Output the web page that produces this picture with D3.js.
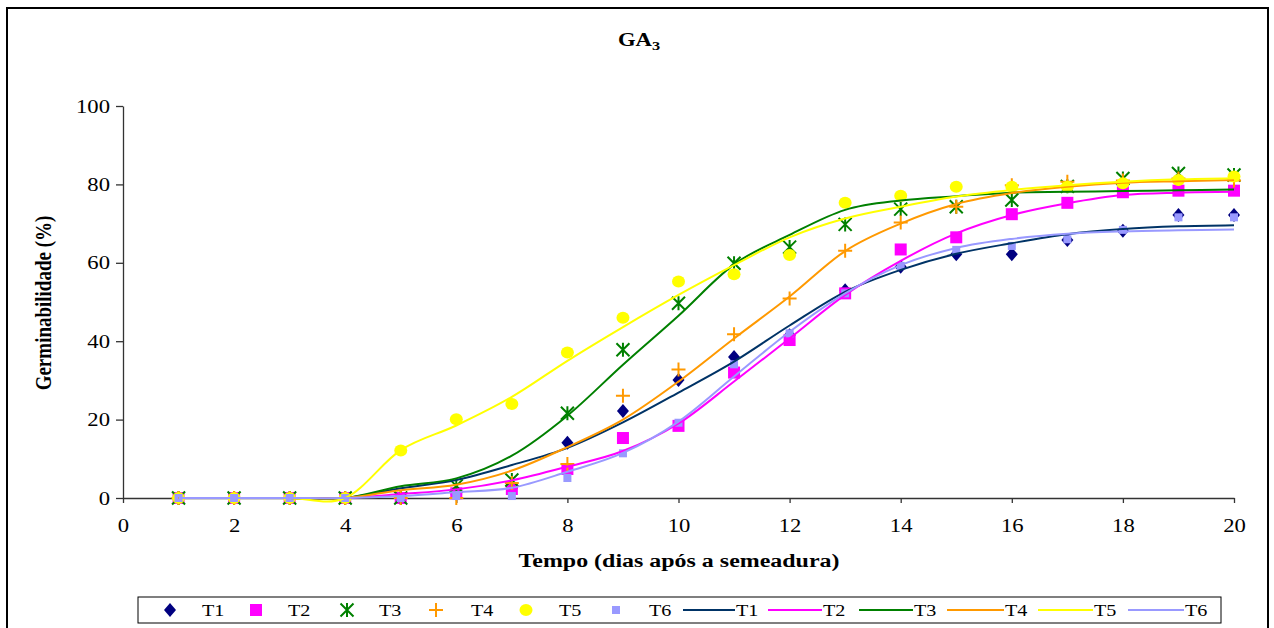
<!DOCTYPE html>
<html>
<head>
<meta charset="utf-8">
<script src="https://cdn.jsdelivr.net/npm/d3@7"></script>
<style>
  html, body { margin: 0; padding: 0; background: #fff; }
  svg { display: block; }
  text { font-family: "Liberation Serif", "Times New Roman", serif; fill: #000; }
</style>
</head>
<body>
<svg id="chart" width="1274" height="628"></svg>
<script>
// ---- Data: germinability (%) per day after sowing, GA3 treatments ----
const days = [1, 2, 3, 4, 5, 6, 7, 8, 9, 10, 11, 12, 13, 14, 15, 16, 17, 18, 19, 20];
const seriesNames = ["T1", "T2", "T3", "T4", "T5", "T6"];

// observed values
const observedT1 = [0, 0, 0, 0, 0, 1, 2.5, 14.1, 22.2, 30.1, 36, 41.5, 53, 59, 62.2, 62.2, 65.8, 68.2, 72.2, 72.2];
const observedT2 = [0, 0, 0, 0, 0, 1.2, 2.3, 7.4, 15.3, 18.4, 32, 40.3, 52.2, 63.4, 66.5, 72.4, 75.3, 78, 78.4, 78.4];
const observedT3 = [0, 0, 0, 0, 0, 3.1, 4.6, 21.6, 37.8, 49.7, 59.9, 64, 69.8, 73.7, 74.3, 76, 79.5, 81.5, 82.8, 82.4];
const observedT4 = [0, 0, 0, 0, 0, 0, 3.8, 8.7, 26.1, 32.8, 41.8, 50.9, 63.1, 70.3, 74.3, 79.8, 80.7, 81, 81.5, 81];
const observedT5 = [0, 0, 0, 0, 12.1, 20.1, 24, 37.1, 46, 55.2, 57.1, 62, 75.3, 77.1, 79.4, 79.4, 79.4, 80.3, 81.1, 82];
const observedT6 = [0, 0, 0, 0, 0, 0.5, 0.5, 5.1, 11.4, 19.2, 34.1, 42, 52.2, 59.2, 63.3, 64.3, 66, 68.4, 71.6, 71.6];

// fitted curves
const fittedT1 = [0, 0, 0, 0, 2.5, 4.6, 8.4, 12.8, 19.3, 26.9, 34.8, 44, 52.6, 58.2, 62.3, 65, 67.3, 68.6, 69.3, 69.6];
const fittedT2 = [0, 0, 0, 0, 1, 2.2, 4.5, 8, 12, 19, 29.7, 40.7, 51.8, 60.5, 67.5, 72.2, 75.2, 77.3, 77.9, 78.1];
const fittedT3 = [0, 0, 0, 0, 3, 5, 10.8, 21, 34, 46.5, 59.6, 67.1, 73.5, 75.9, 77, 77.9, 78.1, 78.3, 78.5, 78.7];
const fittedT4 = [0, 0, 0, 0, 2, 3.4, 7, 13, 20, 29.7, 40.7, 51.4, 63, 70, 75, 77.8, 79.4, 80.4, 80.8, 81.1];
const fittedT5 = [0, 0, 0, 0, 12.2, 18.5, 25.8, 35, 43.6, 51.8, 59.4, 66.5, 71.3, 74.3, 76.9, 78.6, 79.8, 80.7, 81.3, 81.6];
const fittedT6 = [0, 0, 0, 0, 0.5, 1.5, 2.6, 6.7, 11.5, 19.5, 31, 42.4, 52.2, 59.4, 63.8, 66.1, 67.4, 68, 68.3, 68.5];

const xTicks = [0, 2, 4, 6, 8, 10, 12, 14, 16, 18, 20];
const yTicks = [0, 20, 40, 60, 80, 100];

const observed = [observedT1, observedT2, observedT3, observedT4, observedT5, observedT6];
const fitted = [fittedT1, fittedT2, fittedT3, fittedT4, fittedT5, fittedT6];

// ---- Styling ----
const markerColors = ["#000080", "#FF00FF", "#008000", "#FF9900", "#FFFF00", "#9999FF"];
const lineColors = ["#003366", "#FF00FF", "#008000", "#FF9900", "#FFFF00", "#9999FF"];
const STRETCH = 1.26; // horizontal widening of all text

const svg = d3.select("#chart");

// outer chart frame
svg.append("rect")
  .attr("x", 7).attr("y", 8).attr("width", 1261).attr("height", 640)
  .attr("fill", "#fff").attr("stroke", "#000").attr("stroke-width", 2);

const x = d3.scaleLinear().domain([0, 20]).range([123, 1234]);
const y = d3.scaleLinear().domain([0, 100]).range([498, 106]);

function wideText(g, px, py) {
  return g.attr("transform", `translate(${px},${py}) scale(${STRETCH},1)`);
}

// title GA3
const title = svg.append("text")
  .attr("text-anchor", "middle")
  .attr("font-weight", "bold")
  .attr("font-size", 18);
wideText(title, 639, 46);
title.append("tspan").text("GA");
title.append("tspan").attr("font-size", 13).attr("dy", 4).text("3");

// y axis
const yAxis = svg.append("g")
  .attr("transform", `translate(${x(0)},0)`)
  .call(d3.axisLeft(y).tickValues(yTicks).tickSize(7).tickSizeOuter(0).tickFormat(d3.format("d")));
yAxis.select(".domain").attr("stroke", "#333").attr("stroke-width", 1.3);
yAxis.selectAll(".tick line").attr("stroke", "#333").attr("stroke-width", 1.3);
yAxis.selectAll(".tick text")
  .attr("x", null).attr("dy", null)
  .attr("font-size", 18).attr("font-family", null)
  .attr("dominant-baseline", "central")
  .attr("transform", `translate(-13,0) scale(${STRETCH},1)`);

// x axis
const xAxis = svg.append("g")
  .attr("transform", `translate(0,${y(0)})`)
  .call(d3.axisBottom(x).tickValues(xTicks).tickSize(5).tickSizeOuter(0).tickFormat(d3.format("d")));
xAxis.select(".domain").attr("stroke", "#333").attr("stroke-width", 1.3);
xAxis.selectAll(".tick line").attr("stroke", "#333").attr("stroke-width", 1.3);
xAxis.selectAll(".tick text")
  .attr("y", null).attr("dy", null)
  .attr("font-size", 18).attr("font-family", null)
  .attr("transform", `translate(0,34) scale(${STRETCH},1)`);
svg.selectAll(".tick text").attr("fill", "#000");

// axis titles
const xTitle = svg.append("text")
  .attr("text-anchor", "middle").attr("font-weight", "bold").attr("font-size", 19)
  .text("Tempo (dias após a semeadura)");
wideText(xTitle, 679, 567);

const yTitle = svg.append("text")
  .attr("text-anchor", "middle").attr("font-weight", "bold").attr("font-size", 19)
  .attr("transform", `translate(51,303) scale(${STRETCH},1) rotate(-90)`)
  .text("Germinabilidade (%)");

// ---- marker drawing ----
function drawMarker(g, i) {
  const c = markerColors[i];
  switch (i) {
    case 0:
      g.append("path").attr("d", "M0,-7L6,0L0,7L-6,0Z").attr("fill", c);
      break;
    case 1:
      g.append("rect").attr("x", -6).attr("y", -6).attr("width", 12).attr("height", 12).attr("fill", c);
      break;
    case 2:
      g.append("path").attr("d", "M-6.5,-6.5L6.5,6.5M-6.5,6.5L6.5,-6.5M0,-7L0,7")
        .attr("stroke", c).attr("stroke-width", 2).attr("fill", "none");
      break;
    case 3:
      g.append("path").attr("d", "M-7,0L7,0M0,-7L0,7")
        .attr("stroke", c).attr("stroke-width", 2).attr("fill", "none");
      break;
    case 4:
      g.append("ellipse").attr("rx", 6.5).attr("ry", 6).attr("fill", c);
      break;
    case 5:
      g.append("rect").attr("x", -4).attr("y", -4).attr("width", 8).attr("height", 8).attr("fill", c);
      break;
  }
}

// observed markers, series in order
const markerLayer = svg.append("g");
observed.forEach((vals, i) => {
  const sg = markerLayer.append("g");
  vals.forEach((v, k) => {
    const g = sg.append("g").attr("transform", `translate(${x(days[k])},${y(v)})`);
    drawMarker(g, i);
  });
});

// fitted smooth curves
const line = d3.line()
  .x((d, k) => x(days[k]))
  .y(d => y(d))
  .curve(d3.curveCardinal.tension(0));
const lineLayer = svg.append("g");
fitted.forEach((vals, i) => {
  lineLayer.append("path")
    .attr("d", line(vals))
    .attr("fill", "none")
    .attr("stroke", lineColors[i])
    .attr("stroke-width", 2);
});

// ---- legend ----
const legend = svg.append("g");
legend.append("rect")
  .attr("x", 138).attr("y", 597).attr("width", 1083).attr("height", 26)
  .attr("fill", "#fff").attr("stroke", "#000").attr("stroke-width", 1);

const legendMarkerX = [170, 256, 347, 436, 526, 616];
const legendMarkerTextX = [202, 288, 379, 471, 559, 649];
const legendLineX = [683, 768, 859, 947, 1038, 1128];
const legendLineTextX = [735, 822, 913, 1004, 1093, 1184];
const legendY = 610;

seriesNames.forEach((name, i) => {
  const g = legend.append("g").attr("transform", `translate(${legendMarkerX[i]},${legendY})`);
  drawMarker(g, i);
  const t = legend.append("text").attr("font-size", 16).attr("dominant-baseline", "central").text(name);
  wideText(t, legendMarkerTextX[i], legendY + 1);
});
seriesNames.forEach((name, i) => {
  legend.append("line")
    .attr("x1", legendLineX[i]).attr("x2", legendLineTextX[i])
    .attr("y1", legendY).attr("y2", legendY)
    .attr("stroke", lineColors[i]).attr("stroke-width", 2);
  const t = legend.append("text").attr("font-size", 16).attr("dominant-baseline", "central").text(name);
  wideText(t, legendLineTextX[i] + 1, legendY + 1);
});
</script>
</body>
</html>
